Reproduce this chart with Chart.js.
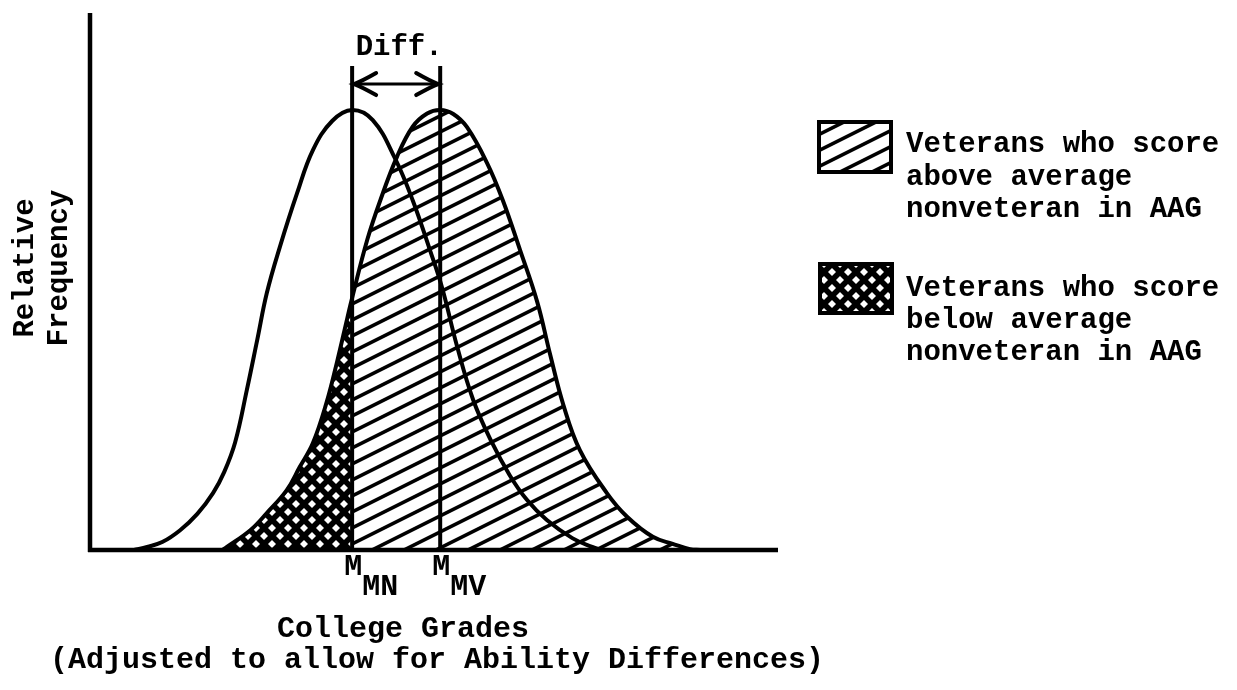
<!DOCTYPE html>
<html><head><meta charset="utf-8">
<script src="https://cdn.jsdelivr.net/npm/chart.js@4/dist/chart.umd.min.js"></script>
<style>html,body{margin:0;padding:0;background:#fff;overflow:hidden}#wrap{width:1237px;height:690px;position:relative}</style>
</head><body><div id="wrap"><canvas id="c" width="1237" height="690"></canvas></div>
<script>
// ---- data (x: college grade units, y: relative frequency, peak = 1) ----
const nonvetGrade = [6.4, 8.3, 10.5, 13.1, 15.6, 17.9, 19.5, 21.1, 22.8, 24.3, 25.7, 27.6, 30.1, 32.4, 35.2, 38.1, 41.1, 44.3, 46.9, 49.4, 51.2, 53.3, 55.7, 58.4, 61.0, 63.5, 66.4, 70.1, 73.0, 74.4];
const nonvetFreq  = [0, 0.007, 0.018, 0.045, 0.082, 0.130, 0.177, 0.245, 0.364, 0.477, 0.584, 0.689, 0.811, 0.909, 0.975, 1.000, 0.977, 0.891, 0.795, 0.682, 0.595, 0.466, 0.341, 0.245, 0.170, 0.114, 0.068, 0.027, 0.007, 0];
const vetGrade = [19.2, 19.9, 23.3, 25.7, 28.6, 30.5, 32.4, 34.4, 35.9, 37.4, 38.1, 40.3, 42.2, 44.6, 46.9, 49.0, 50.9, 52.8, 54.8, 57.7, 60.0, 62.5, 65.0, 66.9, 68.8, 71.2, 75.1, 78.1, 81.8, 84.7, 87.2, 88.7];
const vetFreq  = [0, 0.007, 0.045, 0.084, 0.136, 0.189, 0.243, 0.336, 0.427, 0.527, 0.573, 0.705, 0.795, 0.893, 0.962, 0.992, 1.000, 0.991, 0.961, 0.880, 0.795, 0.682, 0.564, 0.443, 0.330, 0.227, 0.130, 0.075, 0.030, 0.014, 0.002, 0];
const meanNonvet = 38.1;   // M_MN
const meanVet = 50.9;      // M_MV
const meanLineTop = 1.10;
const diffArrowY = 1.059;
const xRange = [0, 100];
const yRange = [0, 1.2205];

// ---- text ----
const diffLabel = 'Diff.';
const meanLabels = [['M', 'MN'], ['M', 'MV']];
const xTitleLines = ['College Grades', '(Adjusted to allow for Ability Differences)'];
const yTitleLines = ['Relative', 'Frequency'];
const legendLabels = [
  ['Veterans who score', 'above average', 'nonveteran in AAG'],
  ['Veterans who score', 'below average', 'nonveteran in AAG']
];

const FONT = '"Liberation Mono", "DejaVu Sans Mono", monospace';

function makeHatch() {
  const c = document.createElement('canvas'); c.width = 32; c.height = 16;
  const g = c.getContext('2d');
  g.strokeStyle = '#000'; g.lineWidth = 3.6;
  for (const off of [-16, 0, 16, 32]) {
    g.beginPath(); g.moveTo(-4, 18 + off); g.lineTo(36, -2 + off); g.stroke();
  }
  return g.createPattern(c, 'repeat');
}
function makeCross() {
  const c = document.createElement('canvas'); c.width = 16; c.height = 16;
  const g = c.getContext('2d');
  g.fillStyle = '#000'; g.fillRect(0, 0, 16, 16);
  g.fillStyle = '#fff';
  const holes = [[8, 8], [0, 0], [16, 0], [0, 16], [16, 16]];
  const r = 4.0;
  for (const [hx, hy] of holes) {
    g.beginPath(); g.moveTo(hx, hy - r); g.lineTo(hx + r, hy); g.lineTo(hx, hy + r); g.lineTo(hx - r, hy); g.closePath(); g.fill();
  }
  return g.createPattern(c, 'repeat');
}
const hatch = makeHatch();
const cross = makeCross();

const pts = (xs, ys) => xs.map((x, i) => ({ x, y: ys[i] }));
const vetPts = pts(vetGrade, vetFreq);
const vetAbove = vetPts.filter(p => p.x >= meanNonvet);
const vetBelow = vetPts.filter(p => p.x <= meanNonvet);

const lineStyle = { borderColor: '#000', pointRadius: 0, fill: false, tension: 0.4, clip: false };
const areaStyle = { borderWidth: 0, borderColor: 'rgba(0,0,0,0)', pointRadius: 0, fill: 'origin', tension: 0.4 };

const annot = {
  id: 'annot',
  afterDatasetsDraw(chart) {
    const ctx = chart.ctx, xs = chart.scales.x, ys = chart.scales.y;
    const X = v => xs.getPixelForValue(v), Y = v => ys.getPixelForValue(v);
    ctx.save();
    // axes
    ctx.strokeStyle = '#000'; ctx.lineWidth = 4.5; ctx.lineCap = 'butt';
    ctx.beginPath(); ctx.moveTo(X(0), Y(yRange[1])); ctx.lineTo(X(0), Y(0) + 2); ctx.stroke();
    ctx.beginPath(); ctx.moveTo(X(0) - 2, Y(0)); ctx.lineTo(X(xRange[1]), Y(0)); ctx.stroke();
    // diff arrow
    const ay = Y(diffArrowY), x1 = X(meanNonvet), x2 = X(meanVet);
    ctx.lineWidth = 3;
    ctx.beginPath(); ctx.moveTo(x1, ay); ctx.lineTo(x2, ay); ctx.stroke();
    ctx.lineWidth = 4; ctx.lineCap = 'round';
    ctx.beginPath(); ctx.moveTo(x1 + 24, ay - 11); ctx.quadraticCurveTo(x1 + 10, ay - 3, x1 + 2, ay); ctx.quadraticCurveTo(x1 + 10, ay + 3, x1 + 24, ay + 11); ctx.stroke();
    ctx.beginPath(); ctx.moveTo(x2 - 24, ay - 11); ctx.quadraticCurveTo(x2 - 10, ay - 3, x2 - 2, ay); ctx.quadraticCurveTo(x2 - 10, ay + 3, x2 - 24, ay + 11); ctx.stroke();
    // texts
    ctx.fillStyle = '#000'; ctx.textBaseline = 'alphabetic';
    ctx.font = 'bold 29px ' + FONT; ctx.textAlign = 'center';
    ctx.fillText(diffLabel, (x1 + x2) / 2 + 3, 55);
    const meanXs = [x1, x2];
    meanLabels.forEach((lab, i) => {
      ctx.font = 'bold 30px ' + FONT; ctx.textAlign = 'center';
      ctx.fillText(lab[0], meanXs[i] + 1, 575);
      ctx.fillText(lab[1], meanXs[i] + 28, 595);
    });
    ctx.font = 'bold 30px ' + FONT; ctx.textAlign = 'center';
    ctx.fillText(xTitleLines[0], 403, 637);
    ctx.fillText(xTitleLines[1], 437, 668);
    ctx.font = 'bold 29px ' + FONT;
    ctx.save(); ctx.translate(0, 268); ctx.rotate(-Math.PI / 2);
    ctx.fillText(yTitleLines[0], 0, 33);
    ctx.fillText(yTitleLines[1], 0, 67);
    ctx.restore();
    // legend
    const boxes = [{ x: 819, y: 122, w: 72, h: 50, p: hatch }, { x: 820, y: 264, w: 72, h: 49, p: cross }];
    const lineYs = [[152, 185, 217], [296, 328, 360]];
    boxes.forEach((b, i) => {
      ctx.fillStyle = b.p; ctx.fillRect(b.x, b.y, b.w, b.h);
      ctx.lineWidth = 4; ctx.lineCap = 'butt'; ctx.strokeStyle = '#000'; ctx.strokeRect(b.x, b.y, b.w, b.h);
      ctx.fillStyle = '#000'; ctx.font = 'bold 29px ' + FONT; ctx.textAlign = 'left';
      legendLabels[i].forEach((t, j) => ctx.fillText(t, 906, lineYs[i][j]));
    });
    ctx.restore();
  }
};

new Chart(document.getElementById('c'), {
  type: 'line',
  data: {
    datasets: [
      { label: 'Nonveterans', data: pts(nonvetGrade, nonvetFreq), borderWidth: 4, order: 1, ...lineStyle },
      { label: 'Veterans', data: vetPts, borderWidth: 4, order: 2, ...lineStyle },
      { label: 'M_MN', data: [{ x: meanNonvet, y: 0 }, { x: meanNonvet, y: meanLineTop }], borderWidth: 4, order: 3, ...lineStyle },
      { label: 'M_MV', data: [{ x: meanVet, y: 0 }, { x: meanVet, y: meanLineTop }], borderWidth: 4, order: 4, ...lineStyle },
      { label: 'Veterans above', data: vetAbove, backgroundColor: hatch, order: 10, ...areaStyle },
      { label: 'Veterans below', data: vetBelow, backgroundColor: cross, order: 11, ...areaStyle }
    ]
  },
  options: {
    responsive: false, animation: false, devicePixelRatio: 1,
    layout: { padding: { left: 90, top: 13, right: 1237 - 778, bottom: 140 } },
    scales: {
      x: { type: 'linear', min: xRange[0], max: xRange[1], display: false },
      y: { type: 'linear', min: yRange[0], max: yRange[1], display: false }
    },
    plugins: { legend: { display: false }, tooltip: { enabled: false } }
  },
  plugins: [annot]
});
</script>
</body></html>
